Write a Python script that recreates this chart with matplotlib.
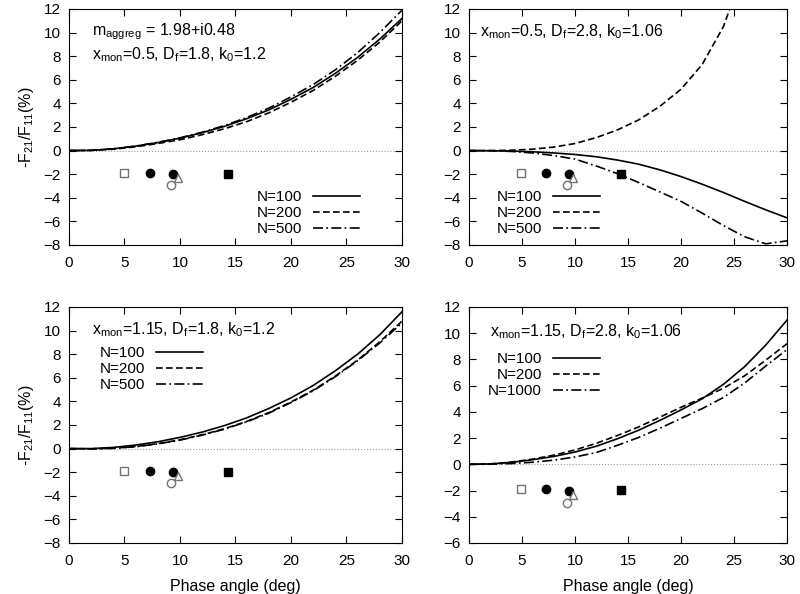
import matplotlib
matplotlib.use("Agg")
import matplotlib.pyplot as plt

plt.rcParams['font.family'] = ['Liberation Sans', 'DejaVu Sans']
plt.rcParams['mathtext.default'] = 'regular'
plt.rcParams['font.size'] = 11

phase = [0, 2, 4, 6, 8, 10, 12, 14, 16, 18, 20, 22, 24, 26, 28, 30]

# panel (a): x_mon=0.5, Df=1.8
a_n100 = [0, 0.02, 0.15, 0.38, 0.68, 1.05, 1.52, 2.05, 2.7, 3.45, 4.35, 5.35, 6.55, 7.9, 9.45, 11.2]
a_n200 = [0, 0.02, 0.12, 0.32, 0.6, 0.92, 1.35, 1.85, 2.45, 3.2, 4.1, 5.1, 6.3, 7.65, 9.2, 11.0]
a_n500 = [0, 0.02, 0.15, 0.38, 0.7, 1.08, 1.56, 2.12, 2.8, 3.6, 4.55, 5.6, 6.85, 8.3, 10.0, 11.9]

# panel (b): x_mon=0.5, Df=2.8
b_n100 = [0, -0.01, -0.04, -0.1, -0.2, -0.33, -0.52, -0.8, -1.15, -1.63, -2.2, -2.85, -3.55, -4.3, -5.02, -5.7]
b_n200 = [0, 0.0, 0.03, 0.12, 0.3, 0.6, 1.1, 1.75, 2.6, 3.75, 5.2, 7.3, 10.5, 15.5, 19.0, 23.0]
b_n500 = [0, -0.01, -0.07, -0.2, -0.42, -0.72, -1.3, -1.95, -2.7, -3.5, -4.3, -5.3, -6.35, -7.3, -7.9, -7.65]

# panel (c): x_mon=1.15, Df=1.8
c_n100 = [0, 0.0, 0.1, 0.3, 0.58, 0.95, 1.4, 1.95, 2.6, 3.4, 4.3, 5.35, 6.6, 8.0, 9.65, 11.6]
c_n200 = [0, -0.02, 0.03, 0.18, 0.42, 0.75, 1.17, 1.68, 2.3, 3.05, 3.95, 4.95, 6.15, 7.5, 9.05, 10.8]
c_n500 = [0, -0.02, 0.02, 0.16, 0.4, 0.72, 1.14, 1.65, 2.27, 3.0, 3.9, 4.9, 6.1, 7.45, 8.95, 10.65]

# panel (d): x_mon=1.15, Df=2.8
d_n100 = [0, 0.03, 0.15, 0.35, 0.6, 0.94, 1.38, 1.95, 2.6, 3.35, 4.15, 5.0, 6.1, 7.45, 9.1, 11.0]
d_n200 = [0, 0.03, 0.17, 0.4, 0.7, 1.1, 1.6, 2.2, 2.85, 3.6, 4.35, 5.05, 5.8, 6.75, 7.95, 9.2]
d_n1000 = [0, 0.01, 0.06, 0.16, 0.32, 0.56, 0.9, 1.45, 2.05, 2.75, 3.5, 4.25, 5.1, 6.2, 7.5, 8.75]

# observations (same in all panels)
obs_open_sq = (4.95, -1.87)
obs_fill_circ = ([7.3, 9.4], [-1.87, -2.0])
obs_open_tri = (9.8, -2.35)
obs_open_circ = (9.2, -2.95)
obs_fill_sq = (14.3, -1.95)

panels = [
    dict(curves=[a_n100, a_n200, a_n500], labels=['N=100', 'N=200', 'N=500'],
         text=['m$_{aggreg}$ = 1.98+i0.48', 'x$_{mon}$=0.5, D$_f$=1.8, k$_0$=1.2'],
         ylim=(-8, 12), leg=(0.874, 0.233)),
    dict(curves=[b_n100, b_n200, b_n500], labels=['N=100', 'N=200', 'N=500'],
         text=['x$_{mon}$=0.5, D$_f$=2.8, k$_0$=1.06'],
         ylim=(-8, 12), leg=(0.412, 0.233)),
    dict(curves=[c_n100, c_n200, c_n500], labels=['N=100', 'N=200', 'N=500'],
         text=['x$_{mon}$=1.15, D$_f$=1.8, k$_0$=1.2'],
         ylim=(-8, 12), leg=(0.402, 0.835)),
    dict(curves=[d_n100, d_n200, d_n1000], labels=['N=100', 'N=200', 'N=1000'],
         text=['x$_{mon}$=1.15, D$_f$=2.8, k$_0$=1.06'],
         ylim=(-6, 12), leg=(0.412, 0.809)),
]

rects = [
    [69/800, 1 - 245/594, 333/800, 236/594],
    [469/800, 1 - 245/594, 318/800, 236/594],
    [69/800, 1 - 543/594, 333/800, 236/594],
    [469/800, 1 - 543/594, 318/800, 236/594],
]
text_pos = [(0.069, 0.903), (0.035, 0.903), (0.069, 0.903), (0.066, 0.894)]
styles = ['-', (0, (4, 2)), (0, (6, 2, 1, 2))]

fig = plt.figure(figsize=(8, 5.94), dpi=100)

for i, p in enumerate(panels):
    ax = fig.add_axes(rects[i])
    ax.axhline(0, color='0.6', lw=0.8, ls=':', zorder=1)
    handles = []
    for y, ls in zip(p['curves'], styles):
        h, = ax.plot(phase, y, color='black', lw=1.2, ls=ls)
        handles.append(h)

    ax.plot(*obs_open_sq, 's', ms=6, mfc='white', mec='0.45', mew=1)
    ax.plot(*obs_fill_circ, 'o', ms=6, color='black', ls='none')
    ax.plot(*obs_open_tri, '^', ms=6, mfc='white', mec='0.45', mew=1)
    ax.plot(*obs_open_circ, 'o', ms=6, mfc='white', mec='0.45', mew=1)
    ax.plot(*obs_fill_sq, 's', ms=6, color='black')

    ax.set_xlim(0, 30)
    ax.set_ylim(*p['ylim'])
    ax.set_xticks(range(0, 31, 5))
    ax.set_yticks(range(p['ylim'][0], 13, 2))
    ax.tick_params(direction='in', top=True, right=True, length=5, labelsize=11)
    ax.tick_params(axis='x', pad=8)
    ax.tick_params(axis='y', pad=6)

    tx, ty = text_pos[i]
    for j, t in enumerate(p['text']):
        ax.text(tx, ty - j * 0.098, t, transform=ax.transAxes, va='center', ha='left', fontsize=11.5)

    ax.legend(handles, p['labels'], loc='upper right', bbox_to_anchor=p['leg'],
              frameon=False, markerfirst=False, handlelength=3.1, handletextpad=0.7,
              labelspacing=0.13, borderpad=0, borderaxespad=0, fontsize=11)

    if i % 2 == 0:
        ax.set_ylabel('-F$_{21}$/F$_{11}$(%)', fontsize=11.5, labelpad=5)
    if i >= 2:
        ax.set_xlabel('Phase angle (deg)', fontsize=11.5, labelpad=8)

fig.savefig('out.png', dpi=100)
